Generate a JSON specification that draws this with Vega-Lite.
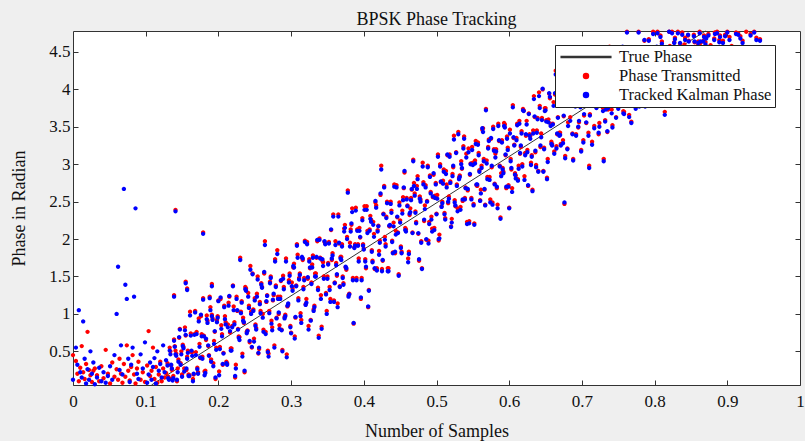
{
"$schema":"https://vega.github.io/schema/vega-lite/v6.json",
"width":727,"height":354,
"autosize":"none",
"padding":{"left":73,"top":31,"right":5,"bottom":56},
"background":"#efefef",
"view":{"fill":"white","stroke":"#333333","strokeWidth":1},
"title":{"text":"BPSK Phase Tracking","font":"Liberation Serif","fontSize":18,"fontWeight":"normal","color":"#111","offset":0,"anchor":"middle"},
"layer":[
{"data":{"values":[{"x":0.108,"y":0.05,"series":"T"},{"x":0.87,"y":4.78,"series":"T"}]},
"mark":{"type":"line","strokeWidth":1},
"encoding":{
"x":{"field":"x","type":"quantitative","scale":{"domain":[0,1],"nice":false,"zero":false},
"axis":{"orient":"bottom","values":[0,0.1,0.2,0.3,0.4,0.5,0.6,0.7,0.8,0.9,1],"format":"~g","tickSize":-5,"labelPadding":13,"domain":false,"grid":false,"tickColor":"#333","labelFont":"Liberation Serif","labelFontSize":17,"labelColor":"#111","title":"Number of Samples","titleFont":"Liberation Serif","titleFontSize":18,"titleFontWeight":"normal","titleColor":"#111","titlePadding":13,"labelFlush":false}},
"y":{"field":"y","type":"quantitative","scale":{"domain":[0.05,4.78],"nice":false,"zero":false},
"axis":{"orient":"left","values":[0.5,1,1.5,2,2.5,3,3.5,4,4.5],"format":"~g","tickSize":-5,"labelPadding":8,"domain":false,"grid":false,"tickColor":"#333","labelFont":"Liberation Serif","labelFontSize":17,"labelColor":"#111","title":"Phase in Radian","titleFont":"Liberation Serif","titleFontSize":18,"titleFontWeight":"normal","titleColor":"#111","titlePadding":20,"labelFlush":false}},
"color":{"field":"series","type":"nominal","scale":{"domain":["T","t","k"],"range":["#333333","#ff0000","#0000ff"]},
"legend":{"orient":"none","legendX":482,"legendY":14,"title":null,"strokeColor":"#222","fillColor":"white","padding":3,"labelFont":"Liberation Serif","labelFontSize":16.5,"labelColor":"#111","symbolSize":256,"symbolOffset":19,"rowPadding":1,"labelOffset":24,"labelExpr":"datum.label == 'T' ? 'True Phase' : datum.label == 't' ? 'Phase Transmitted' : 'Tracked Kalman Phase'"}}
}},
{"data":{"values":[
{"x":0.000,"t":0.45,"k":0.12},{"x":0.004,"t":0.37,"k":0.55},{"x":0.006,"t":0.20,"k":0.32},{"x":0.008,"t":0.10,"k":1.05},{"x":0.010,"t":0.28,"k":0.22},{"x":0.012,"t":0.57,"k":0.15},{"x":0.014,"t":0.22,"k":0.90},{"x":0.016,"t":0.13,"k":0.40},{"x":0.018,"t":0.33,"k":0.07},{"x":0.020,"t":0.76,"k":0.26},
{"x":0.022,"t":0.25,"k":0.12},{"x":0.024,"t":0.18,"k":0.50},{"x":0.026,"t":0.09,"k":0.20},{"x":0.028,"t":0.24,"k":0.35},{"x":0.030,"t":0.27,"k":0.06},{"x":0.033,"t":0.18,"k":0.15},{"x":0.036,"t":0.10,"k":0.28},{"x":0.039,"t":0.30,"k":0.10},{"x":0.042,"t":0.14,"k":0.22},{"x":0.045,"t":0.52,"k":0.08},
{"x":0.048,"t":0.20,"k":0.17},{"x":0.051,"t":0.07,"k":0.30},{"x":0.054,"t":0.35,"k":0.12},{"x":0.057,"t":0.16,"k":0.45},{"x":0.060,"t":0.26,"k":1.00},{"x":0.062,"t":0.12,"k":1.63},{"x":0.064,"t":0.40,"k":0.25},{"x":0.066,"t":0.20,"k":0.58},{"x":0.068,"t":0.08,"k":0.19},{"x":0.070,"t":0.33,"k":2.67},
{"x":0.072,"t":0.16,"k":1.39},{"x":0.074,"t":0.58,"k":1.20},{"x":0.076,"t":0.24,"k":0.40},{"x":0.078,"t":0.11,"k":0.09},{"x":0.080,"t":0.29,"k":0.32},{"x":0.082,"t":0.45,"k":0.55},{"x":0.084,"t":0.19,"k":1.23},{"x":0.086,"t":0.07,"k":2.41},{"x":0.088,"t":0.27,"k":0.20},{"x":0.090,"t":0.36,"k":0.13},
{"x":0.093,"t":0.12,"k":0.46},{"x":0.096,"t":0.22,"k":0.27},{"x":0.099,"t":0.09,"k":0.62},{"x":0.102,"t":0.31,"k":0.08},{"x":0.104,"t":0.77,"k":0.19},{"x":0.106,"t":0.17,"k":0.35},{"x":0.108,"t":0.24,"k":0.12},{"x":0.110,"t":0.55,"k":0.29},{"x":0.112,"t":0.13,"k":0.41},{"x":0.114,"t":0.29,"k":0.07},
{"x":0.116,"t":0.08,"k":0.50},{"x":0.118,"t":0.19,"k":0.24},{"x":0.120,"t":0.36,"k":0.33},{"x":0.122,"t":0.10,"k":0.15},{"x":0.124,"t":0.27,"k":0.58},{"x":0.126,"t":0.15,"k":0.22},{"x":0.128,"t":0.21,"k":0.38},
{"x":0.139,"t":1.25,"k":1.23},{"x":0.141,"t":2.39,"k":2.37},{"x":0.155,"t":1.43,"k":1.41},{"x":0.157,"t":1.34,"k":1.32},{"x":0.179,"t":2.09,"k":2.07},{"x":0.191,"t":1.40,"k":1.37},
{"x":0.130,"k":0.31,"t":0.34},{"x":0.132,"k":0.12,"t":0.14},{"x":0.134,"k":0.46,"t":0.50},{"x":0.136,"k":0.27,"t":0.25},{"x":0.138,"k":0.14,"t":0.17},{"x":0.140,"k":0.56,"t":0.57},{"x":0.142,"k":0.44,"t":0.47},{"x":0.144,"k":0.22,"t":0.27},{"x":0.146,"k":0.69,"t":0.68},{"x":0.148,"k":0.32,"t":0.34},
{"x":0.150,"k":0.16,"t":0.19},{"x":0.152,"k":0.54,"t":0.56},{"x":0.154,"k":0.78,"t":0.82},{"x":0.156,"k":0.27,"t":0.25},{"x":0.158,"k":0.48,"t":0.51},{"x":0.160,"k":0.17,"t":0.18},{"x":0.162,"k":0.71,"t":0.74},{"x":0.164,"k":0.44,"t":0.49},{"x":0.166,"k":0.20,"t":0.19},{"x":0.168,"k":1.02,"t":1.04},
{"x":0.170,"k":0.73,"t":0.76},{"x":0.172,"k":0.20,"t":0.22},{"x":0.174,"k":0.56,"t":0.60},{"x":0.176,"k":0.99,"t":0.97},{"x":0.178,"k":0.40,"t":0.43},{"x":0.180,"k":0.70,"t":0.71},{"x":0.182,"k":0.21,"t":0.24},{"x":0.184,"k":0.93,"t":0.98},{"x":0.186,"k":0.58,"t":0.57},{"x":0.188,"k":1.21,"t":1.23},
{"x":0.190,"k":0.36,"t":0.39},{"x":0.192,"k":0.92,"t":0.94},{"x":0.194,"k":0.60,"t":0.64},{"x":0.196,"k":0.15,"t":0.13},{"x":0.198,"k":0.89,"t":0.92},{"x":0.200,"k":1.17,"t":1.18},{"x":0.202,"k":0.53,"t":0.56},{"x":0.204,"k":0.80,"t":0.85},{"x":0.206,"k":0.33,"t":0.32},{"x":0.208,"k":1.09,"t":1.11},
{"x":0.210,"k":0.86,"t":0.89},{"x":0.212,"k":0.32,"t":0.34},{"x":0.214,"k":1.11,"t":1.15},{"x":0.216,"k":0.77,"t":0.75},{"x":0.218,"k":0.51,"t":0.54},{"x":0.220,"k":1.37,"t":1.38},{"x":0.222,"k":0.86,"t":0.89},{"x":0.224,"k":0.27,"t":0.32},{"x":0.226,"k":1.05,"t":1.04},{"x":0.228,"k":0.68,"t":0.70},
{"x":0.230,"k":1.72,"t":1.75},{"x":0.232,"k":1.15,"t":1.17},{"x":0.234,"k":0.91,"t":0.95},{"x":0.236,"k":0.24,"t":0.22},{"x":0.238,"k":1.31,"t":1.34},{"x":0.240,"k":0.77,"t":0.78},{"x":0.242,"k":1.08,"t":1.11},{"x":0.244,"k":1.59,"t":1.64},{"x":0.246,"k":0.56,"t":0.55},{"x":0.248,"k":1.04,"t":1.06},
{"x":0.250,"k":1.18,"t":1.21},{"x":0.252,"k":0.79,"t":0.81},{"x":0.254,"k":1.46,"t":1.50},{"x":0.256,"k":0.55,"t":0.53},{"x":0.258,"k":1.01,"t":1.04},{"x":0.260,"k":1.35,"t":1.36},{"x":0.262,"k":0.76,"t":0.79},{"x":0.264,"k":1.92,"t":1.97},{"x":0.266,"k":1.17,"t":1.16},{"x":0.268,"k":0.49,"t":0.51},
{"x":0.270,"k":1.01,"t":1.04},{"x":0.272,"k":1.48,"t":1.50},{"x":0.274,"k":0.78,"t":0.82},{"x":0.276,"k":1.27,"t":1.25},{"x":0.278,"k":1.70,"t":1.73},{"x":0.280,"k":0.94,"t":0.95},{"x":0.282,"k":1.20,"t":1.23},{"x":0.284,"k":0.80,"t":0.85},{"x":0.286,"k":1.45,"t":1.44},{"x":0.288,"k":0.50,"t":0.52},
{"x":0.290,"k":1.33,"t":1.36},{"x":0.292,"k":0.97,"t":0.99},{"x":0.294,"k":0.42,"t":0.46},{"x":0.296,"k":1.14,"t":1.12},{"x":0.298,"k":1.51,"t":1.54},{"x":0.300,"k":0.74,"t":0.75},{"x":0.302,"k":1.31,"t":1.34},{"x":0.304,"k":1.62,"t":1.67},{"x":0.306,"k":0.96,"t":0.95},{"x":0.308,"k":1.91,"t":1.93},
{"x":0.310,"k":1.18,"t":1.21},{"x":0.312,"k":1.52,"t":1.54},{"x":0.314,"k":0.88,"t":0.92},{"x":0.316,"k":1.74,"t":1.72},{"x":0.318,"k":1.45,"t":1.48},{"x":0.320,"k":1.12,"t":1.13},{"x":0.322,"k":1.93,"t":1.96},{"x":0.324,"k":0.79,"t":0.84},{"x":0.326,"k":1.62,"t":1.61},{"x":0.328,"k":1.40,"t":1.42},
{"x":0.330,"k":1.75,"t":1.78},{"x":0.332,"k":1.09,"t":1.11},{"x":0.334,"k":1.50,"t":1.54},{"x":0.336,"k":1.99,"t":1.97},{"x":0.338,"k":0.68,"t":0.71},{"x":0.340,"k":1.74,"t":1.75},{"x":0.342,"k":0.80,"t":0.83},{"x":0.344,"k":1.64,"t":1.69},{"x":0.346,"k":1.97,"t":1.96},{"x":0.348,"k":1.26,"t":1.28},
{"x":0.350,"k":1.47,"t":1.50},{"x":0.352,"k":1.94,"t":1.96},{"x":0.354,"k":1.16,"t":1.20},{"x":0.356,"k":1.74,"t":1.72},{"x":0.358,"k":2.30,"t":2.33},{"x":0.360,"k":1.41,"t":1.42},{"x":0.362,"k":1.65,"t":1.68},{"x":0.364,"k":1.09,"t":1.14},{"x":0.366,"k":1.95,"t":1.94},{"x":0.368,"k":1.74,"t":1.76},
{"x":0.370,"k":1.90,"t":1.93},{"x":0.372,"k":1.39,"t":1.41},{"x":0.374,"k":2.15,"t":2.19},{"x":0.376,"k":1.61,"t":1.59},{"x":0.378,"k":2.62,"t":2.65},{"x":0.380,"k":1.26,"t":1.27},{"x":0.382,"k":2.10,"t":2.13},{"x":0.384,"k":2.36,"t":2.41},{"x":0.386,"k":0.88,"t":0.87},{"x":0.388,"k":1.91,"t":1.93},
{"x":0.390,"k":1.45,"t":1.48},{"x":0.392,"k":1.91,"t":1.93},{"x":0.394,"k":2.11,"t":2.15},{"x":0.396,"k":1.22,"t":1.20},{"x":0.398,"k":2.25,"t":2.28},{"x":0.400,"k":1.86,"t":1.87},{"x":0.402,"k":1.70,"t":1.73},{"x":0.404,"k":2.39,"t":2.44},{"x":0.406,"k":1.10,"t":1.09},{"x":0.408,"k":2.11,"t":2.13},
{"x":0.410,"k":2.23,"t":2.26},{"x":0.412,"k":1.69,"t":1.71},{"x":0.414,"k":2.03,"t":2.07},{"x":0.416,"k":2.51,"t":2.49},{"x":0.418,"k":1.58,"t":1.61},{"x":0.420,"k":2.17,"t":2.18},{"x":0.422,"k":1.95,"t":1.98},{"x":0.424,"k":2.93,"t":2.98},{"x":0.426,"k":1.72,"t":1.71},{"x":0.428,"k":2.69,"t":2.71},
{"x":0.430,"k":1.90,"t":1.93},{"x":0.432,"k":2.48,"t":2.50},{"x":0.434,"k":1.57,"t":1.61},{"x":0.436,"k":2.19,"t":2.17},{"x":0.438,"k":2.35,"t":2.38},{"x":0.440,"k":1.81,"t":1.82},{"x":0.442,"k":2.70,"t":2.73},{"x":0.444,"k":2.06,"t":2.11},{"x":0.446,"k":2.30,"t":2.29},{"x":0.448,"k":1.51,"t":1.53},
{"x":0.450,"k":2.22,"t":2.25},{"x":0.452,"k":1.81,"t":1.83},{"x":0.454,"k":2.52,"t":2.56},{"x":0.456,"k":2.91,"t":2.89},{"x":0.458,"k":2.10,"t":2.13},{"x":0.460,"k":2.44,"t":2.45},{"x":0.462,"k":1.80,"t":1.83},{"x":0.464,"k":2.36,"t":2.41},{"x":0.466,"k":2.67,"t":2.66},{"x":0.468,"k":3.04,"t":3.06},
{"x":0.470,"k":2.58,"t":2.61},{"x":0.472,"k":2.21,"t":2.23},{"x":0.474,"k":2.80,"t":2.84},{"x":0.476,"k":1.73,"t":1.71},{"x":0.478,"k":2.50,"t":2.53},{"x":0.480,"k":1.60,"t":1.61},{"x":0.482,"k":2.73,"t":2.76},{"x":0.484,"k":2.40,"t":2.45},{"x":0.486,"k":2.00,"t":1.99},{"x":0.488,"k":2.96,"t":2.98},
{"x":0.490,"k":2.20,"t":2.23},{"x":0.492,"k":2.61,"t":2.63},{"x":0.494,"k":2.10,"t":2.14},{"x":0.496,"k":2.88,"t":2.86},{"x":0.498,"k":2.55,"t":2.58},{"x":0.500,"k":2.33,"t":2.34},{"x":0.502,"k":3.10,"t":3.13},{"x":0.504,"k":2.01,"t":2.06},{"x":0.506,"k":2.77,"t":2.76},{"x":0.508,"k":2.48,"t":2.50},
{"x":0.510,"k":2.90,"t":2.93},{"x":0.512,"k":2.26,"t":2.28},{"x":0.514,"k":2.69,"t":2.73},{"x":0.516,"k":2.50,"t":2.48},{"x":0.518,"k":3.10,"t":3.13},{"x":0.520,"k":2.16,"t":2.17},{"x":0.522,"k":2.84,"t":2.87},{"x":0.524,"k":3.33,"t":3.38},{"x":0.526,"k":2.45,"t":2.44},{"x":0.528,"k":2.71,"t":2.73},
{"x":0.530,"k":3.40,"t":3.43},{"x":0.532,"k":2.83,"t":2.85},{"x":0.534,"k":3.00,"t":3.04},{"x":0.536,"k":2.53,"t":2.51},{"x":0.538,"k":3.34,"t":3.37},{"x":0.540,"k":2.68,"t":2.69},{"x":0.542,"k":2.20,"t":2.23},{"x":0.544,"k":3.16,"t":3.21},{"x":0.546,"k":2.87,"t":2.86},{"x":0.548,"k":2.53,"t":2.55},
{"x":0.550,"k":2.99,"t":3.02},{"x":0.552,"k":2.19,"t":2.21},{"x":0.554,"k":3.27,"t":3.31},{"x":0.556,"k":2.73,"t":2.71},{"x":0.558,"k":3.12,"t":3.15},{"x":0.560,"k":2.51,"t":2.52},{"x":0.562,"k":2.95,"t":2.98},{"x":0.564,"k":3.43,"t":3.48},{"x":0.566,"k":2.67,"t":2.66},{"x":0.568,"k":3.72,"t":3.74},
{"x":0.570,"k":2.80,"t":2.83},{"x":0.572,"k":3.31,"t":3.33},{"x":0.574,"k":2.49,"t":2.53},{"x":0.576,"k":2.98,"t":2.96},{"x":0.578,"k":3.47,"t":3.50},{"x":0.580,"k":2.73,"t":2.74},{"x":0.582,"k":3.17,"t":3.20},{"x":0.584,"k":2.41,"t":2.46},{"x":0.586,"k":3.32,"t":3.31},{"x":0.588,"k":2.27,"t":2.29},
{"x":0.590,"k":3.29,"t":3.32},{"x":0.592,"k":2.88,"t":2.90},{"x":0.594,"k":3.49,"t":3.53},{"x":0.596,"k":2.70,"t":2.68},{"x":0.598,"k":3.19,"t":3.22},{"x":0.600,"k":2.41,"t":2.42},{"x":0.602,"k":3.04,"t":3.07},{"x":0.604,"k":2.63,"t":2.68},{"x":0.606,"k":3.36,"t":3.35},{"x":0.608,"k":2.86,"t":2.88},
{"x":0.610,"k":3.32,"t":3.35},{"x":0.612,"k":2.78,"t":2.80},{"x":0.614,"k":3.54,"t":3.58},{"x":0.616,"k":3.25,"t":3.23},{"x":0.618,"k":2.97,"t":3.00},{"x":0.620,"k":3.71,"t":3.72},{"x":0.622,"k":3.12,"t":3.15},{"x":0.624,"k":3.53,"t":3.58},{"x":0.626,"k":2.72,"t":2.71},{"x":0.628,"k":3.38,"t":3.40},
{"x":0.630,"k":2.99,"t":3.02},{"x":0.632,"k":2.64,"t":2.66},{"x":0.634,"k":3.87,"t":3.91},{"x":0.636,"k":3.18,"t":3.16},{"x":0.638,"k":3.42,"t":3.45},{"x":0.640,"k":2.90,"t":2.91},{"x":0.642,"k":3.75,"t":3.78},{"x":0.644,"k":3.36,"t":3.41},{"x":0.646,"k":4.01,"t":4.00},{"x":0.648,"k":3.20,"t":3.22},
{"x":0.650,"k":3.72,"t":3.75},{"x":0.652,"k":2.80,"t":2.82},{"x":0.654,"k":3.56,"t":3.60},{"x":0.656,"k":3.90,"t":3.88},{"x":0.658,"k":3.27,"t":3.30},{"x":0.660,"k":3.53,"t":3.54},{"x":0.662,"k":3.14,"t":3.17},{"x":0.664,"k":4.20,"t":4.25},{"x":0.666,"k":3.41,"t":3.40},{"x":0.668,"k":3.78,"t":3.80},
{"x":0.670,"k":3.39,"t":3.42},{"x":0.672,"k":3.95,"t":3.97},{"x":0.674,"k":3.28,"t":3.32},{"x":0.676,"k":2.49,"t":2.47},{"x":0.678,"k":4.14,"t":4.17},{"x":0.680,"k":3.20,"t":3.21},{"x":0.682,"k":3.79,"t":3.82},{"x":0.684,"k":3.58,"t":3.63},{"x":0.686,"k":3.99,"t":3.98},{"x":0.688,"k":3.05,"t":3.07},
{"x":0.690,"k":3.86,"t":3.89},{"x":0.692,"k":3.38,"t":3.40},{"x":0.694,"k":4.14,"t":4.18},{"x":0.696,"k":3.58,"t":3.56},{"x":0.698,"k":3.76,"t":3.79},{"x":0.700,"k":4.35,"t":4.36},{"x":0.702,"k":3.29,"t":3.32},{"x":0.704,"k":4.03,"t":4.08},{"x":0.706,"k":3.56,"t":3.55},{"x":0.708,"k":3.88,"t":3.90},
{"x":0.710,"k":2.95,"t":2.98},{"x":0.712,"k":4.15,"t":4.17},{"x":0.714,"k":3.26,"t":3.30},{"x":0.716,"k":3.98,"t":3.96},{"x":0.718,"k":4.34,"t":4.37},{"x":0.720,"k":3.75,"t":3.76},{"x":0.722,"k":4.11,"t":4.14},{"x":0.724,"k":3.50,"t":3.55},{"x":0.726,"k":4.49,"t":4.48},{"x":0.728,"k":3.85,"t":3.87},
{"x":0.730,"k":3.04,"t":3.07},{"x":0.732,"k":3.57,"t":3.59},{"x":0.734,"k":4.34,"t":4.38},{"x":0.736,"k":3.75,"t":3.73},{"x":0.738,"k":4.54,"t":4.57},{"x":0.740,"k":3.99,"t":4.00},{"x":0.742,"k":3.49,"t":3.52},{"x":0.744,"k":4.30,"t":4.35},{"x":0.746,"k":3.89,"t":3.88},{"x":0.748,"k":4.47,"t":4.49},
{"x":0.750,"k":3.74,"t":3.77},{"x":0.752,"k":4.30,"t":4.32},{"x":0.754,"k":4.01,"t":4.05},{"x":0.756,"k":4.57,"t":4.55},{"x":0.758,"k":3.67,"t":3.70},{"x":0.760,"k":4.25,"t":4.26},{"x":0.762,"k":4.76,"t":4.77},{"x":0.764,"k":3.92,"t":3.97},{"x":0.766,"k":4.22,"t":4.21},{"x":0.768,"k":3.55,"t":3.57},
{"x":0.770,"k":4.46,"t":4.49},{"x":0.772,"k":4.02,"t":4.04},{"x":0.774,"k":3.74,"t":3.78},{"x":0.776,"k":4.30,"t":4.28},{"x":0.778,"k":4.76,"t":4.77},{"x":0.780,"k":3.92,"t":3.93},{"x":0.782,"k":4.44,"t":4.47},{"x":0.784,"k":4.20,"t":4.25},{"x":0.786,"k":4.66,"t":4.65},{"x":0.788,"k":4.02,"t":4.04},
{"x":0.790,"k":4.19,"t":4.22},{"x":0.792,"k":4.65,"t":4.67},{"x":0.794,"k":3.81,"t":3.85},{"x":0.796,"k":4.52,"t":4.50},{"x":0.798,"k":4.74,"t":4.77},{"x":0.800,"k":4.07,"t":4.08},{"x":0.802,"k":4.41,"t":4.44},{"x":0.804,"k":4.75,"t":4.77},{"x":0.806,"k":4.23,"t":4.22},{"x":0.808,"k":4.70,"t":4.72},
{"x":0.810,"k":4.61,"t":4.64},{"x":0.812,"k":4.12,"t":4.14},{"x":0.814,"k":3.66,"t":3.70},{"x":0.816,"k":4.55,"t":4.53},{"x":0.818,"k":4.01,"t":4.04},{"x":0.820,"k":4.77,"t":4.77},{"x":0.822,"k":4.40,"t":4.43},{"x":0.824,"k":4.75,"t":4.77},{"x":0.826,"k":4.31,"t":4.30},{"x":0.828,"k":4.67,"t":4.69},
{"x":0.830,"k":4.28,"t":4.31},{"x":0.832,"k":4.75,"t":4.77},{"x":0.834,"k":4.51,"t":4.55},{"x":0.836,"k":4.17,"t":4.15},{"x":0.838,"k":4.73,"t":4.76},{"x":0.840,"k":4.43,"t":4.44},{"x":0.842,"k":4.66,"t":4.69},{"x":0.844,"k":4.37,"t":4.42},{"x":0.846,"k":4.73,"t":4.72},{"x":0.848,"k":4.45,"t":4.47},
{"x":0.850,"k":4.52,"t":4.55},{"x":0.854,"k":4.71,"t":4.73},{"x":0.856,"k":4.38,"t":4.41},{"x":0.860,"k":4.62,"t":4.64},{"x":0.862,"k":4.75,"t":4.77},{"x":0.866,"k":4.45,"t":4.48},{"x":0.868,"k":4.70,"t":4.72},
{"x":0.870,"k":4.60,"t":4.63},{"x":0.874,"k":4.72,"t":4.74},{"x":0.878,"k":4.48,"t":4.51},{"x":0.882,"k":4.66,"t":4.68},{"x":0.886,"k":4.75,"t":4.77},
{"x":0.890,"k":4.70,"t":4.72},{"x":0.894,"k":4.62,"t":4.65},{"x":0.900,"k":4.76,"t":4.77},{"x":0.906,"k":4.55,"t":4.58},
{"x":0.912,"k":4.74,"t":4.76},{"x":0.918,"k":4.68,"t":4.71},{"x":0.926,"t":4.77},
{"x":0.932,"k":4.72,"t":4.74},{"x":0.940,"k":4.66,"t":4.69},{"x":0.945,"k":4.65,"t":4.67},
{"x":0.131,"k":0.14,"t":0.16},{"x":0.133,"k":0.51,"t":0.55},{"x":0.135,"k":0.32,"t":0.31},{"x":0.137,"k":0.11,"t":0.14},{"x":0.139,"k":0.64,"t":0.66},{"x":0.141,"k":0.46,"t":0.51},{"x":0.143,"k":0.12,"t":0.10},{"x":0.145,"k":0.36,"t":0.39},{"x":0.147,"k":0.79,"t":0.80},{"x":0.149,"k":0.46,"t":0.50},
{"x":0.151,"k":0.57,"t":0.59},{"x":0.153,"k":0.23,"t":0.27},{"x":0.155,"k":0.72,"t":0.71},{"x":0.157,"k":0.40,"t":0.43},{"x":0.159,"k":0.17,"t":0.19},{"x":0.161,"k":0.98,"t":1.03},{"x":0.163,"k":0.51,"t":0.49},{"x":0.165,"k":0.10,"t":0.13},{"x":0.167,"k":0.72,"t":0.73},{"x":0.169,"k":0.45,"t":0.49},
{"x":0.171,"k":0.26,"t":0.28},{"x":0.173,"k":0.90,"t":0.94},{"x":0.175,"k":0.42,"t":0.41},{"x":0.177,"k":0.70,"t":0.73},{"x":0.179,"k":1.19,"t":1.21},{"x":0.181,"k":0.18,"t":0.23},{"x":0.183,"k":0.67,"t":0.65},{"x":0.185,"k":0.88,"t":0.91},{"x":0.187,"k":0.44,"t":0.45},{"x":0.189,"k":1.05,"t":1.09},
{"x":0.191,"k":0.97,"t":0.99},{"x":0.193,"k":0.30,"t":0.34},{"x":0.195,"k":0.77,"t":0.76},{"x":0.197,"k":0.52,"t":0.55},{"x":0.199,"k":0.95,"t":0.97},{"x":0.201,"k":0.18,"t":0.23},{"x":0.203,"k":1.22,"t":1.20},{"x":0.205,"k":0.70,"t":0.73},{"x":0.207,"k":0.47,"t":0.48},{"x":0.209,"k":0.93,"t":0.97},
{"x":0.211,"k":0.34,"t":0.36},{"x":0.213,"k":0.82,"t":0.86},{"x":0.215,"k":1.24,"t":1.23},{"x":0.217,"k":0.51,"t":0.54},{"x":0.219,"k":0.82,"t":0.84},{"x":0.221,"k":1.05,"t":1.10},{"x":0.223,"k":0.17,"t":0.15},{"x":0.225,"k":1.20,"t":1.23},{"x":0.227,"k":0.79,"t":0.80},{"x":0.229,"k":0.65,"t":0.69},
{"x":0.231,"k":1.01,"t":1.03},{"x":0.233,"k":0.43,"t":0.47},{"x":0.235,"k":0.89,"t":0.88},{"x":0.237,"k":1.33,"t":1.36},{"x":0.239,"k":0.74,"t":0.76},{"x":0.241,"k":1.23,"t":1.28},{"x":0.243,"k":0.64,"t":0.62},{"x":0.245,"k":1.00,"t":1.03},{"x":0.247,"k":1.53,"t":1.54},{"x":0.249,"k":0.63,"t":0.67},
{"x":0.251,"k":0.84,"t":0.86},{"x":0.253,"k":1.23,"t":1.27},{"x":0.255,"k":0.48,"t":0.47},{"x":0.257,"k":1.13,"t":1.16},{"x":0.259,"k":1.39,"t":1.41},{"x":0.261,"k":0.95,"t":1.00},{"x":0.263,"k":1.56,"t":1.54},{"x":0.265,"k":0.73,"t":0.76},{"x":0.267,"k":1.24,"t":1.25},{"x":0.269,"k":0.43,"t":0.47},
{"x":0.271,"k":1.41,"t":1.43},{"x":0.273,"k":0.87,"t":0.91},{"x":0.275,"k":1.19,"t":1.18},{"x":0.277,"k":0.55,"t":0.58},{"x":0.279,"k":1.36,"t":1.38},{"x":0.281,"k":1.80,"t":1.85},{"x":0.283,"k":1.02,"t":1.00},{"x":0.285,"k":1.20,"t":1.23},{"x":0.287,"k":0.78,"t":0.79},{"x":0.289,"k":1.47,"t":1.51},
{"x":0.291,"k":0.94,"t":0.96},{"x":0.293,"k":1.70,"t":1.74},{"x":0.295,"k":1.11,"t":1.10},{"x":0.297,"k":1.42,"t":1.45},{"x":0.299,"k":0.82,"t":0.84},{"x":0.301,"k":1.37,"t":1.42},{"x":0.303,"k":1.64,"t":1.62},{"x":0.305,"k":0.67,"t":0.70},{"x":0.307,"k":1.37,"t":1.38},{"x":0.309,"k":1.75,"t":1.79},
{"x":0.311,"k":1.46,"t":1.48},{"x":0.313,"k":0.97,"t":1.01},{"x":0.315,"k":1.76,"t":1.75},{"x":0.317,"k":1.33,"t":1.36},{"x":0.319,"k":1.96,"t":1.98},{"x":0.321,"k":1.15,"t":1.20},{"x":0.323,"k":1.49,"t":1.47},{"x":0.325,"k":1.70,"t":1.73},{"x":0.327,"k":0.91,"t":0.92},{"x":0.329,"k":1.62,"t":1.66},
{"x":0.331,"k":1.04,"t":1.06},{"x":0.333,"k":1.50,"t":1.54},{"x":0.335,"k":1.76,"t":1.75},{"x":0.337,"k":1.32,"t":1.35},{"x":0.339,"k":1.99,"t":2.01},{"x":0.341,"k":1.20,"t":1.25},{"x":0.343,"k":1.73,"t":1.71},{"x":0.345,"k":1.47,"t":1.50},{"x":0.347,"k":1.93,"t":1.94},{"x":0.349,"k":1.00,"t":1.04},
{"x":0.351,"k":1.66,"t":1.68},{"x":0.353,"k":1.32,"t":1.36},{"x":0.355,"k":2.13,"t":2.12},{"x":0.357,"k":1.78,"t":1.81},{"x":0.359,"k":1.16,"t":1.18},{"x":0.361,"k":1.92,"t":1.97},{"x":0.363,"k":1.53,"t":1.51},{"x":0.365,"k":2.30,"t":2.33},{"x":0.367,"k":1.36,"t":1.37},{"x":0.369,"k":1.72,"t":1.76},
{"x":0.371,"k":1.48,"t":1.50},{"x":0.373,"k":2.10,"t":2.14},{"x":0.375,"k":1.63,"t":1.62},{"x":0.377,"k":2.00,"t":2.03},{"x":0.379,"k":1.23,"t":1.25},{"x":0.381,"k":1.90,"t":1.95},{"x":0.383,"k":2.21,"t":2.19},{"x":0.385,"k":1.45,"t":1.48},{"x":0.387,"k":1.88,"t":1.89},{"x":0.389,"k":2.38,"t":2.42},
{"x":0.391,"k":2.11,"t":2.13},{"x":0.393,"k":1.70,"t":1.74},{"x":0.395,"k":2.03,"t":2.02},{"x":0.397,"k":1.45,"t":1.48},{"x":0.399,"k":1.91,"t":1.93},{"x":0.401,"k":2.39,"t":2.44},{"x":0.403,"k":1.63,"t":1.61},{"x":0.405,"k":2.08,"t":2.11},{"x":0.407,"k":1.31,"t":1.32},{"x":0.409,"k":2.27,"t":2.31},
{"x":0.411,"k":1.83,"t":1.85},{"x":0.413,"k":2.19,"t":2.23},{"x":0.415,"k":1.61,"t":1.60},{"x":0.417,"k":2.42,"t":2.45},{"x":0.419,"k":2.10,"t":2.12},{"x":0.421,"k":1.79,"t":1.84},{"x":0.423,"k":2.61,"t":2.59},{"x":0.425,"k":1.57,"t":1.60},{"x":0.427,"k":2.33,"t":2.34},{"x":0.429,"k":1.99,"t":2.03},
{"x":0.431,"k":2.28,"t":2.30},{"x":0.433,"k":1.57,"t":1.61},{"x":0.435,"k":2.18,"t":2.17},{"x":0.437,"k":2.47,"t":2.50},{"x":0.439,"k":1.96,"t":1.98},{"x":0.441,"k":2.17,"t":2.22},{"x":0.443,"k":1.83,"t":1.81},{"x":0.445,"k":2.69,"t":2.72},{"x":0.447,"k":2.08,"t":2.09},{"x":0.449,"k":2.45,"t":2.49},
{"x":0.451,"k":1.88,"t":1.90},{"x":0.453,"k":2.34,"t":2.38},{"x":0.455,"k":2.69,"t":2.68},{"x":0.457,"k":2.12,"t":2.15},{"x":0.459,"k":2.53,"t":2.55},{"x":0.461,"k":1.69,"t":1.74},{"x":0.463,"k":2.34,"t":2.32},{"x":0.465,"k":2.52,"t":2.55},{"x":0.467,"k":2.08,"t":2.09},{"x":0.469,"k":2.71,"t":2.75},
{"x":0.471,"k":2.35,"t":2.37},{"x":0.473,"k":2.67,"t":2.71},{"x":0.475,"k":2.08,"t":2.07},{"x":0.477,"k":2.54,"t":2.57},{"x":0.479,"k":1.95,"t":1.97},{"x":0.481,"k":2.97,"t":3.02},{"x":0.483,"k":2.26,"t":2.24},{"x":0.485,"k":2.69,"t":2.72},{"x":0.487,"k":2.50,"t":2.51},{"x":0.489,"k":1.94,"t":1.98},
{"x":0.491,"k":2.83,"t":2.85},{"x":0.493,"k":2.26,"t":2.30},{"x":0.495,"k":2.57,"t":2.56},{"x":0.497,"k":2.12,"t":2.15},{"x":0.499,"k":2.73,"t":2.75},{"x":0.501,"k":2.54,"t":2.59},{"x":0.503,"k":2.00,"t":1.98},{"x":0.505,"k":2.97,"t":3.00},{"x":0.507,"k":2.43,"t":2.44},{"x":0.509,"k":2.74,"t":2.78},
{"x":0.511,"k":2.33,"t":2.35},{"x":0.513,"k":2.87,"t":2.91},{"x":0.515,"k":3.13,"t":3.12},{"x":0.517,"k":2.54,"t":2.57},{"x":0.519,"k":2.75,"t":2.77},{"x":0.521,"k":2.22,"t":2.27},{"x":0.523,"k":2.98,"t":2.96},{"x":0.525,"k":2.49,"t":2.52},{"x":0.527,"k":3.15,"t":3.16},{"x":0.529,"k":2.37,"t":2.41},
{"x":0.531,"k":2.80,"t":2.82},{"x":0.533,"k":2.39,"t":2.43},{"x":0.535,"k":2.95,"t":2.94},{"x":0.537,"k":3.21,"t":3.24},{"x":0.539,"k":2.53,"t":2.55},{"x":0.541,"k":3.09,"t":3.14},{"x":0.543,"k":2.67,"t":2.65},{"x":0.545,"k":2.21,"t":2.24},{"x":0.547,"k":3.00,"t":3.01},{"x":0.549,"k":3.19,"t":3.23},
{"x":0.551,"k":2.45,"t":2.47},{"x":0.553,"k":3.01,"t":3.05},{"x":0.555,"k":2.73,"t":2.72},{"x":0.557,"k":3.26,"t":3.29},{"x":0.559,"k":2.90,"t":2.92},{"x":0.561,"k":2.61,"t":2.66},{"x":0.563,"k":3.48,"t":3.46},{"x":0.565,"k":3.04,"t":3.07},{"x":0.567,"k":2.45,"t":2.46},{"x":0.569,"k":3.01,"t":3.05},
{"x":0.571,"k":3.21,"t":3.23},{"x":0.573,"k":2.79,"t":2.83},{"x":0.575,"k":3.35,"t":3.34},{"x":0.577,"k":2.46,"t":2.49},{"x":0.579,"k":3.18,"t":3.20},{"x":0.581,"k":3.09,"t":3.14},{"x":0.583,"k":2.70,"t":2.68},{"x":0.585,"k":3.51,"t":3.54},{"x":0.587,"k":2.97,"t":2.98},{"x":0.589,"k":2.84,"t":2.88},
{"x":0.591,"k":2.93,"t":2.95},{"x":0.593,"k":3.51,"t":3.55},{"x":0.595,"k":3.13,"t":3.12},{"x":0.597,"k":3.34,"t":3.37},{"x":0.599,"k":2.70,"t":2.72},{"x":0.601,"k":3.41,"t":3.46},{"x":0.603,"k":2.95,"t":2.93},{"x":0.605,"k":3.76,"t":3.79},{"x":0.607,"k":3.25,"t":3.26},{"x":0.609,"k":2.81,"t":2.85},
{"x":0.611,"k":3.52,"t":3.54},{"x":0.613,"k":2.94,"t":2.98},{"x":0.615,"k":3.15,"t":3.14},{"x":0.617,"k":3.41,"t":3.44},{"x":0.619,"k":3.72,"t":3.74},{"x":0.621,"k":2.79,"t":2.84},{"x":0.623,"k":3.40,"t":3.38},{"x":0.625,"k":3.16,"t":3.19},{"x":0.627,"k":3.67,"t":3.68},{"x":0.629,"k":3.34,"t":3.38},
{"x":0.631,"k":3.10,"t":3.12},{"x":0.633,"k":3.41,"t":3.45},{"x":0.635,"k":3.64,"t":3.63},{"x":0.637,"k":2.96,"t":2.99},{"x":0.639,"k":3.60,"t":3.62},{"x":0.641,"k":3.91,"t":3.96},{"x":0.643,"k":3.25,"t":3.23},{"x":0.645,"k":3.59,"t":3.62},{"x":0.647,"k":2.90,"t":2.91},{"x":0.649,"k":3.71,"t":3.75},
{"x":0.651,"k":3.57,"t":3.59},{"x":0.653,"k":3.03,"t":3.07},{"x":0.655,"k":3.95,"t":3.94},{"x":0.657,"k":3.51,"t":3.54},{"x":0.659,"k":3.25,"t":3.27},{"x":0.661,"k":3.78,"t":3.83},{"x":0.663,"k":3.95,"t":3.93},{"x":0.665,"k":3.21,"t":3.24},{"x":0.667,"k":3.62,"t":3.63},{"x":0.669,"k":3.38,"t":3.42},
{"x":0.671,"k":3.25,"t":3.27},{"x":0.673,"k":3.78,"t":3.82},{"x":0.675,"k":3.65,"t":3.64},{"x":0.677,"k":3.08,"t":3.11},{"x":0.679,"k":3.98,"t":4.00},{"x":0.681,"k":3.51,"t":3.56},{"x":0.683,"k":3.90,"t":3.88},{"x":0.685,"k":4.18,"t":4.21},{"x":0.687,"k":3.40,"t":3.41},{"x":0.689,"k":3.78,"t":3.82},
{"x":0.691,"k":3.77,"t":3.79},{"x":0.693,"k":4.08,"t":4.12},{"x":0.695,"k":3.50,"t":3.49},{"x":0.697,"k":4.01,"t":4.04},{"x":0.699,"k":3.17,"t":3.19},{"x":0.701,"k":3.91,"t":3.96},{"x":0.703,"k":3.67,"t":3.65},{"x":0.705,"k":4.11,"t":4.14},{"x":0.707,"k":3.97,"t":3.98},{"x":0.709,"k":3.38,"t":3.42},
{"x":0.711,"k":3.65,"t":3.67},{"x":0.713,"k":4.11,"t":4.15},{"x":0.715,"k":4.32,"t":4.31},{"x":0.717,"k":3.48,"t":3.51},{"x":0.719,"k":3.90,"t":3.92},{"x":0.721,"k":4.11,"t":4.16},{"x":0.723,"k":3.42,"t":3.40},{"x":0.725,"k":4.00,"t":4.03},{"x":0.727,"k":4.29,"t":4.30},{"x":0.729,"k":3.71,"t":3.75},
{"x":0.731,"k":4.17,"t":4.19},{"x":0.733,"k":3.73,"t":3.77},{"x":0.735,"k":3.44,"t":3.43},{"x":0.737,"k":4.31,"t":4.34},{"x":0.739,"k":4.07,"t":4.09},{"x":0.741,"k":3.68,"t":3.73},{"x":0.743,"k":4.19,"t":4.17},{"x":0.745,"k":3.91,"t":3.94},{"x":0.747,"k":3.62,"t":3.63},{"x":0.749,"k":4.18,"t":4.22},
{"x":0.751,"k":3.79,"t":3.81},{"x":0.753,"k":4.16,"t":4.20},{"x":0.755,"k":4.37,"t":4.36},{"x":0.757,"k":3.68,"t":3.71},{"x":0.759,"k":4.24,"t":4.26},{"x":0.761,"k":3.96,"t":4.01},{"x":0.763,"k":4.32,"t":4.30},{"x":0.765,"k":3.63,"t":3.66},{"x":0.767,"k":4.19,"t":4.20},{"x":0.769,"k":3.86,"t":3.90},
{"x":0.771,"k":4.22,"t":4.24},{"x":0.773,"k":3.83,"t":3.87},{"x":0.775,"k":4.39,"t":4.38},{"x":0.777,"k":4.10,"t":4.13},{"x":0.779,"k":3.77,"t":3.79},{"x":0.781,"k":4.38,"t":4.43},{"x":0.783,"k":3.99,"t":3.97},{"x":0.785,"k":4.35,"t":4.38},{"x":0.787,"k":3.77,"t":3.78},{"x":0.789,"k":4.23,"t":4.27},
{"x":0.791,"k":4.09,"t":4.11},{"x":0.793,"k":4.45,"t":4.49},{"x":0.795,"k":3.92,"t":3.91},{"x":0.797,"k":4.43,"t":4.46},{"x":0.799,"k":4.24,"t":4.26},{"x":0.801,"k":4.05,"t":4.10},{"x":0.803,"k":4.57,"t":4.55},{"x":0.805,"k":3.93,"t":3.96},{"x":0.807,"k":4.44,"t":4.45},{"x":0.809,"k":4.25,"t":4.29},
{"x":0.811,"k":4.37,"t":4.39},{"x":0.813,"k":4.13,"t":4.17},{"x":0.815,"k":4.54,"t":4.53},{"x":0.817,"k":4.25,"t":4.28},{"x":0.819,"k":4.07,"t":4.09},{"x":0.821,"k":4.53,"t":4.58},{"x":0.823,"k":4.34,"t":4.32},{"x":0.825,"k":4.15,"t":4.18},{"x":0.827,"k":4.62,"t":4.63},{"x":0.829,"k":4.28,"t":4.32},
{"x":0.831,"k":4.44,"t":4.46},{"x":0.833,"k":4.25,"t":4.29},{"x":0.835,"k":4.62,"t":4.61},{"x":0.837,"k":4.33,"t":4.36},{"x":0.839,"k":4.19,"t":4.21},{"x":0.841,"k":4.55,"t":4.60},{"x":0.843,"k":4.42,"t":4.40},{"x":0.845,"k":4.28,"t":4.31},{"x":0.847,"k":4.64,"t":4.65},{"x":0.849,"k":4.50,"t":4.54},
{"x":0.851,"k":4.46,"t":4.48},{"x":0.853,"k":4.33,"t":4.37},{"x":0.855,"k":4.64,"t":4.63},{"x":0.857,"k":4.45,"t":4.48},{"x":0.859,"k":4.56,"t":4.58},{"x":0.861,"k":4.33,"t":4.38},{"x":0.863,"k":4.64,"t":4.62},{"x":0.865,"k":4.45,"t":4.48},{"x":0.867,"k":4.64,"t":4.65},{"x":0.869,"k":4.33,"t":4.37},
{"x":0.871,"k":4.68,"t":4.70},{"x":0.877,"k":4.55,"t":4.59},{"x":0.883,"k":4.74,"t":4.76},{"x":0.889,"k":4.63,"t":4.66},{"x":0.897,"k":4.71,"t":4.73},{"x":0.903,"k":4.66,"t":4.70},{"x":0.915,"k":4.73,"t":4.75},{"x":0.921,"k":4.62,"t":4.65},{"x":0.937,"k":4.76,"t":4.77}
]},
"transform":[{"fold":["t","k"],"as":["series","y"]}],
"mark":{"type":"point","filled":true,"opacity":1,"size":198},
"encoding":{
"x":{"field":"x","type":"quantitative","axis":{"orient":"top","values":[0.1,0.2,0.3,0.4,0.5,0.6,0.7,0.8,0.9],"labels":false,"tickSize":-5,"tickColor":"#333","domain":false,"grid":false,"title":null}},
"y":{"field":"y","type":"quantitative","axis":{"orient":"right","values":[0.5,1,1.5,2,2.5,3,3.5,4,4.5],"labels":false,"tickSize":-5,"tickColor":"#333","domain":false,"grid":false,"title":null}},
"color":{"field":"series","type":"nominal"},
"shape":{"field":"series","type":"nominal","scale":{"domain":["T","t","k"],"range":["M-3.1,-0.075L3.1,-0.075L3.1,0.075L-3.1,0.075Z","M-0.31,0A0.31,0.31,0,1,1,0.31,0A0.31,0.31,0,1,1,-0.31,0Z","M-0.31,0A0.31,0.31,0,1,1,0.31,0A0.31,0.31,0,1,1,-0.31,0Z"]}},
"order":{"field":"series","sort":"descending"}
}}
],
"resolve":{"axis":{"x":"independent","y":"independent"}}
}
